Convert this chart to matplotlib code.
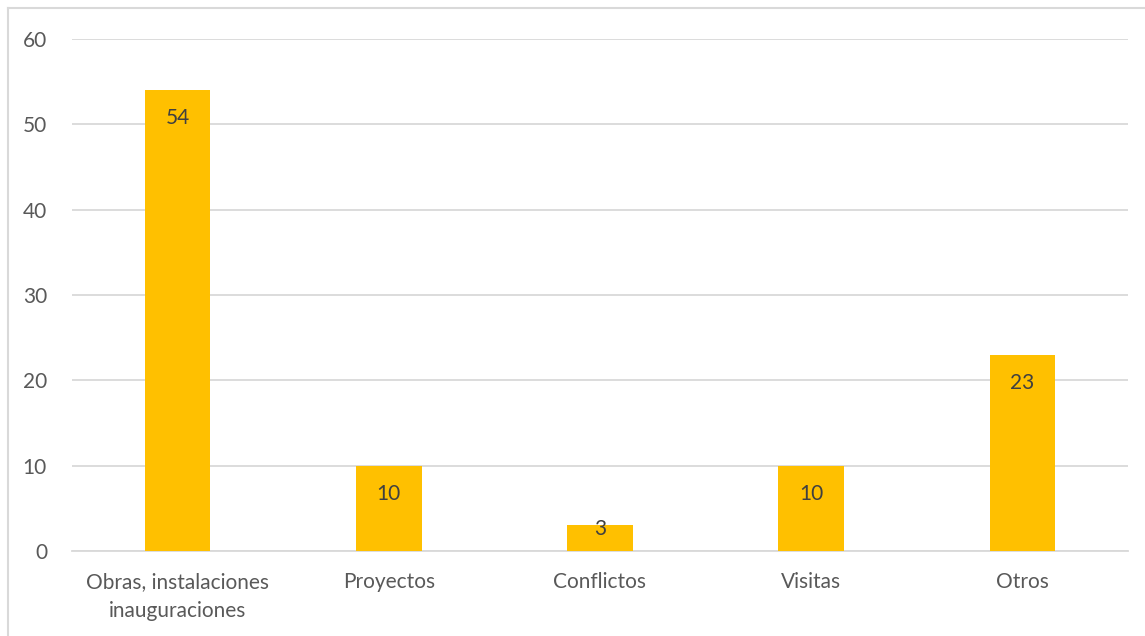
import matplotlib
matplotlib.use("Agg")
import matplotlib.pyplot as plt
from matplotlib.lines import Line2D

CATEGORIES = ["Obras, instalaciones\ninauguraciones", "Proyectos", "Conflictos", "Visitas", "Otros"]
VALUES = [54, 10, 3, 10, 23]
Y_TICKS = [0, 10, 20, 30, 40, 50, 60]

BAR_COLOR = "#FFC000"
GRID_COLOR = "#D9D9D9"
TICK_COLOR = "#595959"
LABEL_COLOR = "#404040"

plt.rcParams["font.family"] = ["Lato", "DejaVu Sans"]

W, H = 1145, 636
fig = plt.figure(figsize=(W / 100, H / 100), dpi=100)
ax = fig.add_axes([72 / W, 85 / H, 1056 / W, 512 / H])

x = range(len(CATEGORIES))
ax.bar(x, VALUES, width=0.31, color=BAR_COLOR, zorder=3)

for xi, v in zip(x, VALUES):
    # inside-end labels; short bars get the label pushed up to the top edge
    y = v - 3.3 if v >= 6 else v - 0.4
    ax.text(xi, y, str(v), ha="center", va="center", fontsize=15,
            color=LABEL_COLOR, zorder=4)

ax.set_xlim(-0.5, len(CATEGORIES) - 0.5)
ax.set_ylim(0, 60)
ax.set_yticks(Y_TICKS)
ax.set_xticks(list(x))
ax.set_xticklabels(CATEGORIES, linespacing=1.6)
ax.tick_params(axis="y", length=0, pad=18, labelsize=15, labelcolor=TICK_COLOR)
ax.tick_params(axis="x", length=0, pad=15, labelsize=15, labelcolor=TICK_COLOR)
ax.grid(axis="y", color=GRID_COLOR, linewidth=1.3, zorder=0)
for s in ["top", "right", "left"]:
    ax.spines[s].set_visible(False)
ax.spines["bottom"].set_color(GRID_COLOR)
ax.spines["bottom"].set_linewidth(1.3)

# chart area border (only the left and top edges fall inside the image)
fig.add_artist(Line2D([8 / W, 8 / W], [0, 1 - 8 / H], color=GRID_COLOR, lw=1.5,
                      transform=fig.transFigure))
fig.add_artist(Line2D([8 / W, 1], [1 - 8 / H, 1 - 8 / H], color=GRID_COLOR, lw=1.5,
                      transform=fig.transFigure))

fig.savefig("out.png", dpi=100)
